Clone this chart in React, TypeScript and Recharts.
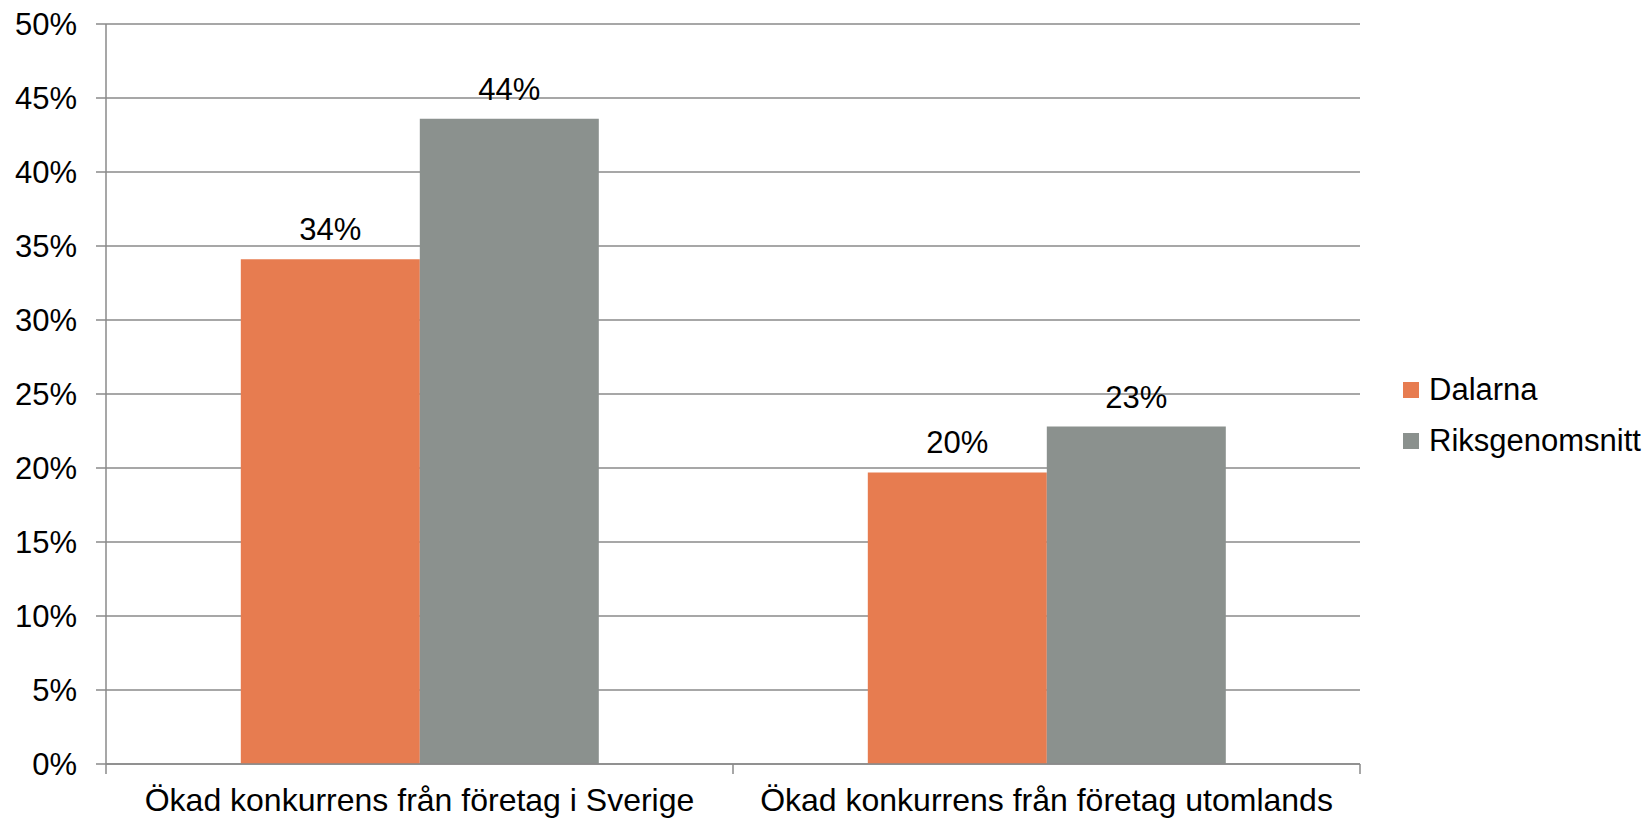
import React from "react";
import { BarChart, Bar, XAxis, YAxis, CartesianGrid, Legend, LabelList } from "recharts";

const categories = ["Ökad konkurrens från företag i Sverige", "Ökad konkurrens från företag utomlands"];
const dalarna = [34.1, 19.7];
const riks = [43.6, 22.8];
const yTicks = [0, 5, 10, 15, 20, 25, 30, 35, 40, 45, 50];
const seriesNames = ["Dalarna", "Riksgenomsnitt"];
const colors = ["#E77C50", "#8B918E"];

const data = categories.map((c, i) => ({ name: c, Dalarna: dalarna[i], Riksgenomsnitt: riks[i] }));

const FONT = "'Liberation Sans', Arial, sans-serif";
const GRID = "#8a8a8a";

const LegendContent = () => (
  <div style={{ fontFamily: FONT, fontSize: 31, color: "#000" }}>
    {seriesNames.map((n, i) => (
      <div key={n} style={{ display: "flex", alignItems: "center", height: 51 }}>
        <div style={{ width: 16, height: 16, background: colors[i], marginRight: 10 }} />
        <span>{n}</span>
      </div>
    ))}
  </div>
);

const CatTick = (props: any) => {
  const { x, y, payload, index, visibleTicksCount, width } = props;
  const half =
    payload && typeof payload.offset === "number" && payload.offset > 0
      ? payload.offset
      : width / (2 * visibleTicksCount);
  return (
    <g>
      <line x1={x - half} x2={x - half} y1={y} y2={y + 10} stroke={GRID} strokeWidth={1.5} />
      {index === visibleTicksCount - 1 && (
        <line x1={x + half} x2={x + half} y1={y} y2={y + 10} stroke={GRID} strokeWidth={1.5} />
      )}
      <text x={x} y={y + 24} dy="0.71em" textAnchor="middle" fill="#000" fontSize={32} fontFamily={FONT}>
        {payload.value}
      </text>
    </g>
  );
};

export default function App() {
  return (
    <div style={{ position: "absolute", left: 0, top: 0, background: "#fff" }}>
      <BarChart
        width={1651}
        height={820}
        data={data}
        margin={{ top: 24, right: 291, bottom: 0, left: 0 }}
        barGap={0}
        barCategoryGap="21.5%"
      >
        <CartesianGrid horizontal={true} vertical={false} stroke={GRID} strokeWidth={1.5} />
        <XAxis
          dataKey="name"
          axisLine={{ stroke: GRID, strokeWidth: 1.5 }}
          tickLine={false}
          tickSize={0}
          tickMargin={0}
          height={56}
          interval={0}
          tick={<CatTick />}
        />
        <YAxis
          domain={[0, 50]}
          ticks={yTicks}
          interval={0}
          tickFormatter={(v) => `${v}%`}
          width={106}
          axisLine={{ stroke: GRID, strokeWidth: 1.5 }}
          tickLine={{ stroke: GRID, strokeWidth: 1.5 }}
          tickSize={10}
          tickMargin={19}
          tick={{ fill: "#000", fontSize: 31, fontFamily: FONT }}
        />
        <Legend
          layout="vertical"
          align="center"
          verticalAlign="middle"
          content={<LegendContent />}
          wrapperStyle={{ left: 1403, top: 364, width: 248 }}
        />
        {seriesNames.map((n, i) => (
          <Bar key={n} dataKey={n} fill={colors[i]} isAnimationActive={false}>
            <LabelList
              dataKey={n}
              position="top"
              offset={19}
              formatter={(v: number) => `${Math.round(v)}%`}
              style={{ fill: "#000", fontSize: 31, fontFamily: FONT }}
            />
          </Bar>
        ))}
      </BarChart>
    </div>
  );
}
